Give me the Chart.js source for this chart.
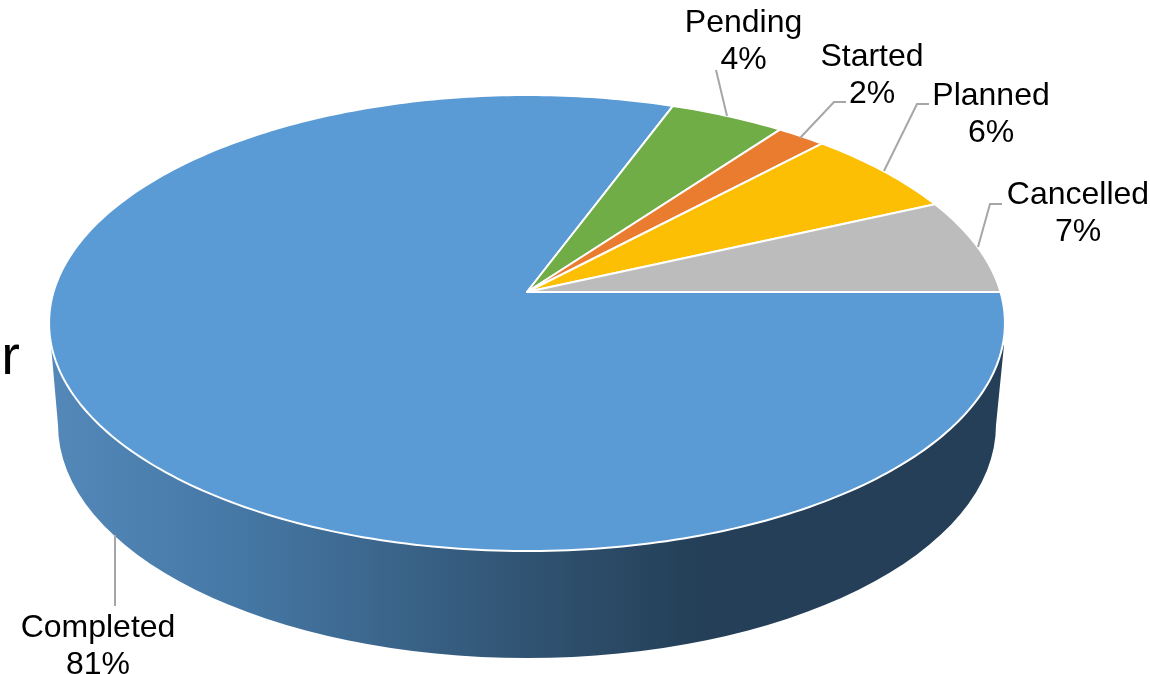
<!DOCTYPE html>
<html>
<head>
<meta charset="utf-8">
<title>Status pie</title>
<script src="https://cdn.jsdelivr.net/npm/chart.js@4/dist/chart.umd.js"></script>
<style>
  html, body { margin: 0; padding: 0; background: #fff; }
  #wrap { width: 1150px; height: 674px; overflow: hidden; }
</style>
</head>
<body>
<div id="wrap"><canvas id="pie" width="1150" height="674"></canvas></div>
<script>
const statuses = ["Completed", "Pending", "Started", "Planned", "Cancelled"];
const shares = [80.65, 4.45, 1.9, 6.2, 6.8];
const sliceColors = ["#5b9bd5", "#70ad47", "#ea7c30", "#fcbf03", "#bcbcbc"];

// Where each label sits and how its leader line runs (same order as statuses)
const labelCenters = [[98, 637], [743.5, 32], [872, 66], [991, 105], [1078, 204]];
const leaders = [
  [[115, 535], [115, 606]],
  [[727, 116], [716, 70]],
  [[800, 138], [834, 102], [846, 102]],
  [[884, 171], [917, 104], [929, 104]],
  [[978, 247], [990, 204], [1002, 204]]
];

// Perspective of the pie top: unit circle -> screen
const apex = { x: 527, y: 292 };
const radiusX = 473.5, radiusY = 223.8, tilt = -0.136;

function project(angle) {
  const u = Math.cos(angle), v = Math.sin(angle);
  const w = 1 + tilt * v;
  return [apex.x + radiusX * u / w, apex.y + radiusY * v / w];
}

// Slices keep the angles Chart.js works out, only the outline is projected
Chart.ArcElement.prototype.draw = function (ctx) {
  const steps = Math.max(8, Math.ceil((this.endAngle - this.startAngle) * 60));
  ctx.save();
  ctx.beginPath();
  ctx.moveTo(apex.x, apex.y);
  for (let i = 0; i <= steps; i++) {
    const p = project(this.startAngle + (this.endAngle - this.startAngle) * i / steps);
    ctx.lineTo(p[0], p[1]);
  }
  ctx.closePath();
  ctx.fillStyle = this.options.backgroundColor;
  ctx.fill();
  ctx.strokeStyle = this.options.borderColor;
  ctx.lineWidth = this.options.borderWidth;
  ctx.lineJoin = "round";
  ctx.stroke();
  ctx.restore();
};

const sideWall = {
  id: "sideWall",
  beforeDatasetsDraw(chart) {
    const ctx = chart.ctx;
    const gradient = ctx.createLinearGradient(52, 0, 700, 0);
    gradient.addColorStop(0, "#5388b9");
    gradient.addColorStop(0.3, "#4577a4");
    gradient.addColorStop(0.7, "#325676");
    gradient.addColorStop(1, "#243f57");
    ctx.save();
    ctx.beginPath();
    ctx.moveTo(51, 345);
    ctx.lineTo(58, 425);
    ctx.ellipse(527, 425, 469, 233, 0, Math.PI, 0, true);
    ctx.lineTo(1004, 345);
    ctx.closePath();
    ctx.fillStyle = gradient;
    ctx.fill();
    ctx.restore();
  }
};

const pieLabels = {
  id: "pieLabels",
  afterDatasetsDraw(chart) {
    const ctx = chart.ctx;
    ctx.save();
    ctx.strokeStyle = "#a6a6a6";
    ctx.lineWidth = 2;
    leaders.forEach(line => {
      ctx.beginPath();
      line.forEach((p, i) => i ? ctx.lineTo(p[0], p[1]) : ctx.moveTo(p[0], p[1]));
      ctx.stroke();
    });
    ctx.fillStyle = "#000";
    ctx.textAlign = "center";
    ctx.font = "32px 'Liberation Sans', Arial, sans-serif";
    statuses.forEach((name, i) => {
      const [x, y] = labelCenters[i];
      ctx.fillText(name, x, y);
      ctx.fillText(Math.round(shares[i]) + "%", x, y + 37);
    });
    // end of the cut-off word at the left edge
    ctx.textAlign = "right";
    ctx.font = "56px 'Liberation Sans', Arial, sans-serif";
    ctx.fillText("or", 20, 374);
    ctx.restore();
  }
};

new Chart(document.getElementById("pie"), {
  type: "pie",
  data: {
    labels: statuses,
    datasets: [{
      data: shares,
      backgroundColor: sliceColors,
      borderColor: "#ffffff",
      borderWidth: 2
    }]
  },
  options: {
    responsive: false,
    animation: false,
    rotation: 90,
    plugins: {
      legend: { display: false },
      tooltip: { enabled: false }
    }
  },
  plugins: [sideWall, pieLabels]
});
</script>
</body>
</html>
